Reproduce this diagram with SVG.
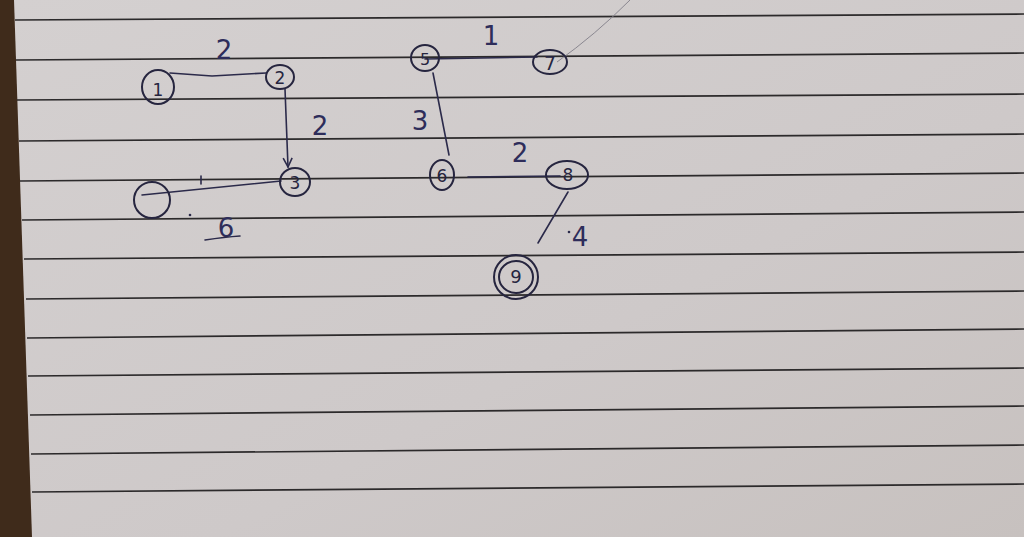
<svg xmlns="http://www.w3.org/2000/svg" width="1024" height="537" viewBox="0 0 1024 537">
<style>
.ink{fill:none;stroke:#2b2a4a;stroke-width:1.6;stroke-linecap:round}
.node{fill:none;stroke:#26253f;stroke-width:2}
.lbl{font-family:"DejaVu Sans","Liberation Sans",sans-serif;fill:#26253f;text-anchor:middle;dominant-baseline:central}
.w{font-family:"DejaVu Sans","Liberation Sans",sans-serif;fill:#2e2d5a;font-size:26px;text-anchor:middle;dominant-baseline:central}
.rule{stroke:#2c2a2b;stroke-width:1.7}
</style>
<defs>
<linearGradient id="paper" x1="0" y1="0" x2="1" y2="1">
<stop offset="0" stop-color="#d4d0d0"/>
<stop offset="0.6" stop-color="#cec9c9"/>
<stop offset="1" stop-color="#c7c1bf"/>
</linearGradient>
<marker id="arr" viewBox="0 0 10 10" refX="9" refY="5" markerWidth="7" markerHeight="7" orient="auto">
<path d="M1,1 L9,5 L1,9" fill="none" stroke="#2b2a4a" stroke-width="1.4"/>
</marker>
</defs>
<rect width="1024" height="537" fill="#3f2b1b"/>
<polygon points="14,0 1024,0 1024,537 32,537" fill="url(#paper)"/>
<g id="rules">
<line class="rule" x1="15" y1="20" x2="1024" y2="14"/>
<line class="rule" x1="16" y1="60" x2="1024" y2="53"/>
<line class="rule" x1="17" y1="100" x2="1024" y2="94"/>
<line class="rule" x1="19" y1="141" x2="1024" y2="134"/>
<line class="rule" x1="20" y1="181" x2="1024" y2="173"/>
<line class="rule" x1="22" y1="220" x2="1024" y2="212"/>
<line class="rule" x1="24" y1="259" x2="1024" y2="252"/>
<line class="rule" x1="26" y1="299" x2="1024" y2="291"/>
<line class="rule" x1="27" y1="338" x2="1024" y2="329"/>
<line class="rule" x1="28" y1="376" x2="1024" y2="368"/>
<line class="rule" x1="30" y1="415" x2="1024" y2="406"/>
<line class="rule" x1="31" y1="454" x2="1024" y2="445"/>
<line class="rule" x1="32" y1="492" x2="1024" y2="484"/>
</g>
<g id="connectors">
<path class="ink" d="M170,73 L212,76 L266,73"/>
<path class="ink" d="M285,89 L288,167" marker-end="url(#arr)"/>
<path class="ink" d="M281,181 L142,195"/>
<path class="ink" d="M201,176 L201,184"/>
<path class="ink" d="M425,59 L537,57"/>
<path d="M557,62 Q595,35 630,0" fill="none" stroke="#8a8790" stroke-width="1"/>
<path class="ink" d="M433,73 L449,155"/>
<path class="ink" d="M468,177 L560,176"/>
<path class="ink" d="M568,192 L538,243"/>
<text class="w" x="224" y="50">2</text>
<text class="w" x="320" y="126">2</text>
<text class="w" x="226" y="228">6</text>
<path class="ink" d="M205,240 Q225,237 240,236"/>
<circle cx="190" cy="215" r="1.3" fill="#2b2a4a"/>
<text class="w" x="491" y="36">1</text>
<text class="w" x="420" y="121">3</text>
<text class="w" x="520" y="153">2</text>
<text class="w" x="580" y="237">4</text>
<circle cx="569" cy="232" r="1.3" fill="#2b2a4a"/>
</g>
<g id="node1"><ellipse class="node" cx="158" cy="87" rx="16" ry="17"/><text class="lbl" x="158" y="90" font-size="17">1</text></g>
<g id="node2"><ellipse class="node" cx="280" cy="77" rx="14" ry="12"/><text class="lbl" x="280" y="78" font-size="17">2</text></g>
<g id="node3"><ellipse class="node" cx="295" cy="182" rx="15" ry="14"/><text class="lbl" x="295" y="183" font-size="17">3</text></g>
<g id="node4"><ellipse class="node" cx="152" cy="200" rx="18" ry="18"/></g>
<g id="node5"><ellipse class="node" cx="425" cy="58" rx="14" ry="13"/><text class="lbl" x="425" y="59" font-size="16">5</text></g>
<g id="node6"><ellipse class="node" cx="442" cy="175" rx="12" ry="15"/><text class="lbl" x="442" y="176" font-size="17">6</text></g>
<g id="node7"><ellipse class="node" cx="550" cy="62" rx="17" ry="12"/><text class="lbl" x="550" y="63" font-size="19">7</text></g>
<g id="node8"><ellipse class="node" cx="567" cy="175" rx="21" ry="14"/><text class="lbl" x="568" y="175" font-size="17">8</text></g>
<g id="node9"><ellipse class="node" cx="516" cy="277" rx="22" ry="22"/><ellipse class="node" cx="516" cy="277" rx="17" ry="16" stroke-width="1"/><text class="lbl" x="516" y="276" font-size="18">9</text></g>
</svg>
